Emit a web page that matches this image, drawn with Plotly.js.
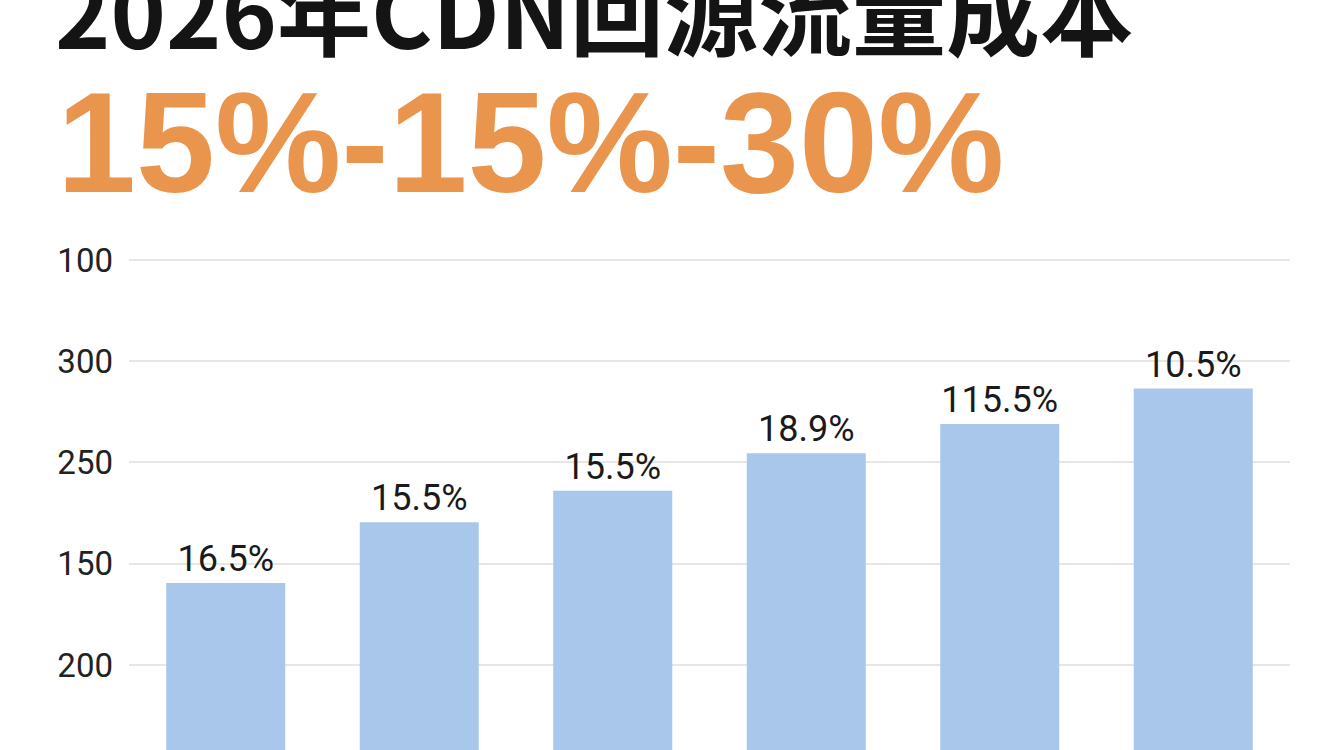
<!DOCTYPE html>
<html>
<head>
<meta charset="utf-8">
<script src="https://cdn.plot.ly/plotly-3.0.1.min.js"></script>
<style>
  html, body { margin: 0; padding: 0; background: #ffffff; }
  #chart { width: 1344px; height: 750px; }
</style>
</head>
<body>
<div id="chart"></div>
<script>
// categories (x labels fall below the visible area)
const periods = ["2021", "2022", "2023", "2024", "2025", "2026"];
// bar heights in axis units
const costValues = [181, 241, 272, 309, 338, 373];
// labels printed above each bar
const barLabels = ["16.5%", "15.5%", "15.5%", "18.9%", "115.5%", "10.5%"];
// y axis ticks as printed on the chart
const tickPositions = [100, 200, 300, 400, 500];
const tickLabels = ["200", "150", "250", "300", "100"];

const bars = {
  x: periods,
  y: costValues,
  text: barLabels,
  type: "bar",
  textposition: "outside",
  cliponaxis: false,
  textfont: { family: "Roboto", size: 36, color: "#1a1a1a" },
  marker: { color: "#a9c7ea" },
  hoverinfo: "skip"
};

const layout = {
  width: 1344,
  height: 750,
  margin: { l: 129, r: 54, t: 230, b: 0 },
  paper_bgcolor: "#ffffff",
  plot_bgcolor: "#ffffff",
  showlegend: false,
  bargap: 0.385,
  title: {
    text: "<b>2026年CDN回源流量成本</b>",
    font: { family: "Noto Sans CJK SC", size: 94, color: "#141414" },
    xref: "container",
    x: 0.041,
    xanchor: "left",
    yref: "container",
    y: 0.935,
    yanchor: "bottom"
  },
  annotations: [{
    text: "<b>15%-15%-30%</b>",
    xref: "paper",
    yref: "paper",
    x: -0.064,
    y: 1.012,
    xanchor: "left",
    yanchor: "bottom",
    showarrow: false,
    font: { family: "Liberation Sans", size: 142, color: "#e9954e" }
  }],
  xaxis: {
    type: "category",
    range: [-0.5, 5.5],
    showticklabels: false,
    showgrid: false,
    zeroline: false,
    showline: false
  },
  yaxis: {
    range: [16, 529.6],
    tickvals: tickPositions,
    ticktext: tickLabels,
    ticklabelstandoff: 15,
    tickfont: { family: "Roboto", size: 33, color: "#222222" },
    gridcolor: "#e6e6e6",
    gridwidth: 2,
    zeroline: false,
    showline: false
  }
};

Plotly.newPlot("chart", [bars], layout, { displayModeBar: false, staticPlot: true });
</script>
</body>
</html>
